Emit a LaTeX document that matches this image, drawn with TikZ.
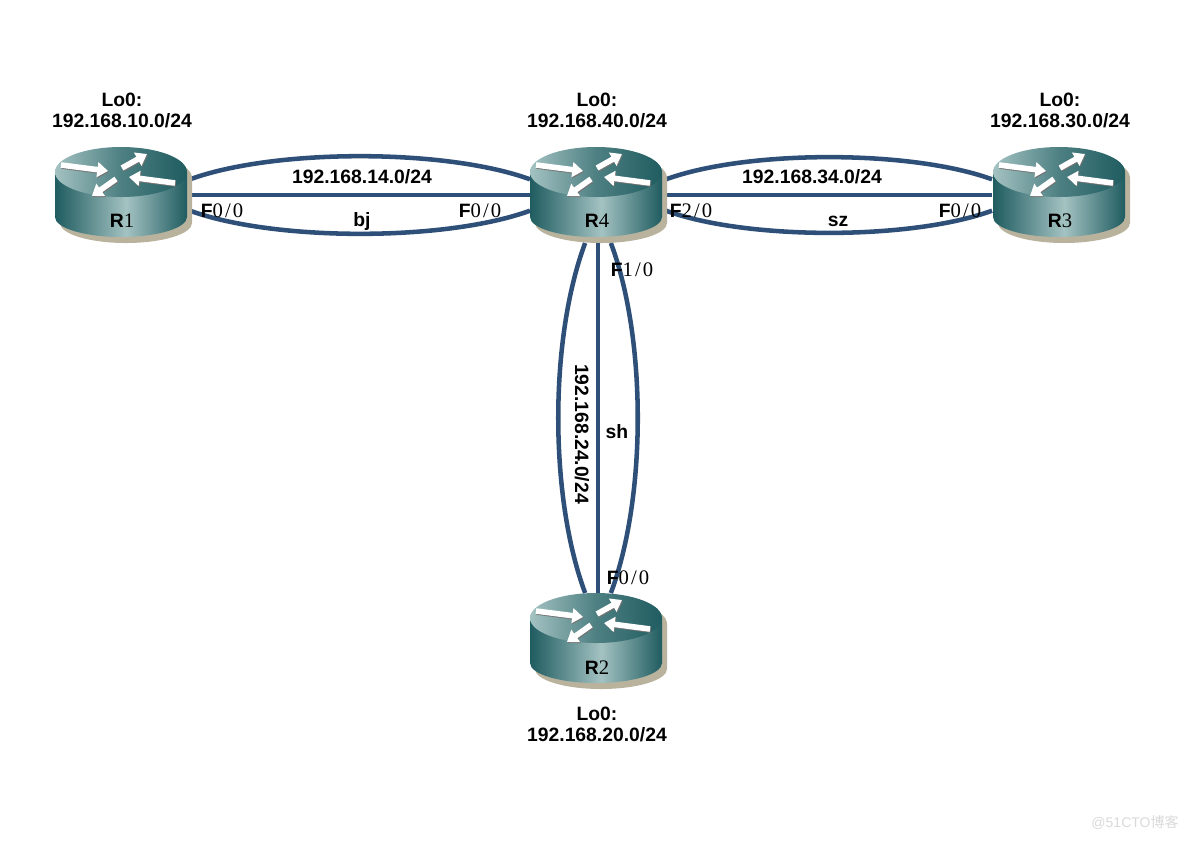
\documentclass[tikz,border=0pt]{standalone}
\usepackage{fontspec}
\setmainfont{Liberation Sans}
\newfontfamily\digitfont[LetterSpace=10]{Liberation Serif}
\newfontfamily\cjkfont{Noto Sans CJK SC}
\usetikzlibrary{arrows.meta,backgrounds,positioning}

\definecolor{linkblue}{HTML}{2E4F78}
\definecolor{routerdark}{HTML}{1F5C60}
\definecolor{routerlight}{HTML}{A4C2C2}
\definecolor{routerside}{HTML}{B9B39E}

\pgfdeclarehorizontalshading{routerbody}{100bp}{color(0bp)=(routerdark); color(25bp)=(routerdark);
	color(52bp)=(routerlight); color(75bp)=(routerdark); color(100bp)=(routerdark)}
\pgfdeclarehorizontalshading{routertop}{100bp}{color(0bp)=(routerlight); color(25bp)=(routerlight);
	color(50bp)=(routerdark!65!routerlight); color(75bp)=(routerdark); color(100bp)=(routerdark)}

% F bold, the number in a wide serif
\newcommand{\ifname}[2]{\textbf{#1}{\digitfont\fontsize{15.5pt}{16pt}\selectfont #2}}
\newcommand{\hostname}[2]{\textbf{#1}{\fontspec{Liberation Serif}\fontsize{15.5pt}{16pt}\selectfont #2}}

% router body, drawn over the links
\newcommand{\routershape}{
	(-66,-23) -- (-66,22) arc[start angle=180, end angle=0, x radius=66, y radius=20] -- (66,-23)
}
\newcommand{\router}[2]{
	\begin{scope}[shift={(#1,#2)}]
		\begin{scope}[shift={(5,6)}]
			\fill[routerside] \routershape -- cycle;
			\fill[routerside] (0,-23) ellipse [x radius=66, y radius=25];
		\end{scope}
		\path[shading=routerbody] \routershape -- cycle;
		\path[shading=routertop] (0,-23) ellipse [x radius=66, y radius=25];
		% four flow arrows on the lid
		\foreach \tailx/\taily/\tipx/\tipy in {-60/-30/-13/-24, 1/-27/26/-41, 54/-12/8/-18, -5/-16/-29/1}{
			\draw[flow, black!55, shift={(0.8,1)}] (\tailx,\taily) -- (\tipx,\tipy);
			\draw[flow] (\tailx,\taily) -- (\tipx,\tipy);
		}
	\end{scope}
}

\begin{document}
\begin{tikzpicture}[
	x=0.75pt, y=-0.75pt,
	font=\fontsize{14.5pt}{15.75pt}\selectfont,
	box/.style={rectangle, minimum width=102pt, minimum height=72pt, inner sep=0pt, outer sep=0pt},
	link/.style={draw=linkblue, line width=3.4pt},
	flow/.style={white, line width=4.2pt, -{Triangle[width=11pt,length=8pt]}},
	addr/.style={align=center, font=\fontsize{14.5pt}{15.75pt}\selectfont\bfseries, inner sep=0pt},
	lab/.style={inner sep=0pt},
	hbend/.style={bend #1=20, looseness=.68},
	vbend/.style={bend #1=20.5, looseness=.75},
	]

	\useasboundingbox (0,0) rectangle (1188,840);

	% Routers
	\node[box] (R1) at (122,195) {};
	\node[box] (R4) at (598,195) {};
	\node[box] (R3) at (1060,195) {};
	\node[box] (R2) at (598,641) {};

	% Paths connecting routers
	\begin{scope}[on background layer]
		\path[link] (R1) edge (R4);
		\path[link] (R1.13) edge[hbend=left] (R4.167);
		\path[link] (R1.-13) edge[hbend=right] (R4.-167);
		\path[link] (R4) edge (R3);
		\path[link] (R4.13) edge[hbend=left] (R3.167);
		\path[link] (R4.-13) edge[hbend=right] (R3.-167);
		\path[link] (R4) edge (R2);
		\path[link] (R4.-105) edge[vbend=right] (R2.105);
		\path[link] (R4.-75) edge[vbend=left] (R2.75);
	\end{scope}

	\router{121}{195}
	\router{596}{195}
	\router{1059}{195}
	\router{596}{641}

	% Router names
	\node[lab] (nameR1) at (122,221) {\hostname{R}{1}};
	\node[lab] (nameR4) at (597,221) {\hostname{R}{4}};
	\node[lab] (nameR3) at (1060,221) {\hostname{R}{3}};
	\node[lab] (nameR2) at (597,668) {\hostname{R}{2}};

	% Loopbacks
	\node[addr] (loR1) at (122,110) {Lo0:\\192.168.10.0/24};
	\node[addr] (loR4) at (597,110) {Lo0:\\192.168.40.0/24};
	\node[addr] (loR3) at (1060,110) {Lo0:\\192.168.30.0/24};
	\node[addr] (loR2) at (597,724) {Lo0:\\192.168.20.0/24};

	% Subnets and link names
	\node[addr] (net14) at (362,177) {192.168.14.0/24};
	\node[addr] (net34) at (812,177) {192.168.34.0/24};
	\node[addr, rotate=-90] (net24) at (582,434) {192.168.24.0/24};
	\node[addr] (bj) at (362,221) {bj};
	\node[addr] (sz) at (838,221) {sz};
	\node[addr] (sh) at (617,432) {sh};

	% Interfaces
	\node[lab] (ifR1) at (222,211) {\ifname{F}{0/0}};
	\node[lab] (ifR4a) at (480,211) {\ifname{F}{0/0}};
	\node[lab] (ifR4b) at (691,211) {\ifname{F}{2/0}};
	\node[lab] (ifR3) at (960,211) {\ifname{F}{0/0}};
	\node[lab] (ifR4c) at (632,270) {\ifname{F}{1/0}};
	\node[lab] (ifR2) at (628,578) {\ifname{F}{0/0}};

	\node[lab, text=black!15, font=\fontsize{10.5pt}{12pt}\selectfont] (mark) at (1135,823) {@51CTO{\cjkfont 博客}};

\end{tikzpicture}
\end{document}
